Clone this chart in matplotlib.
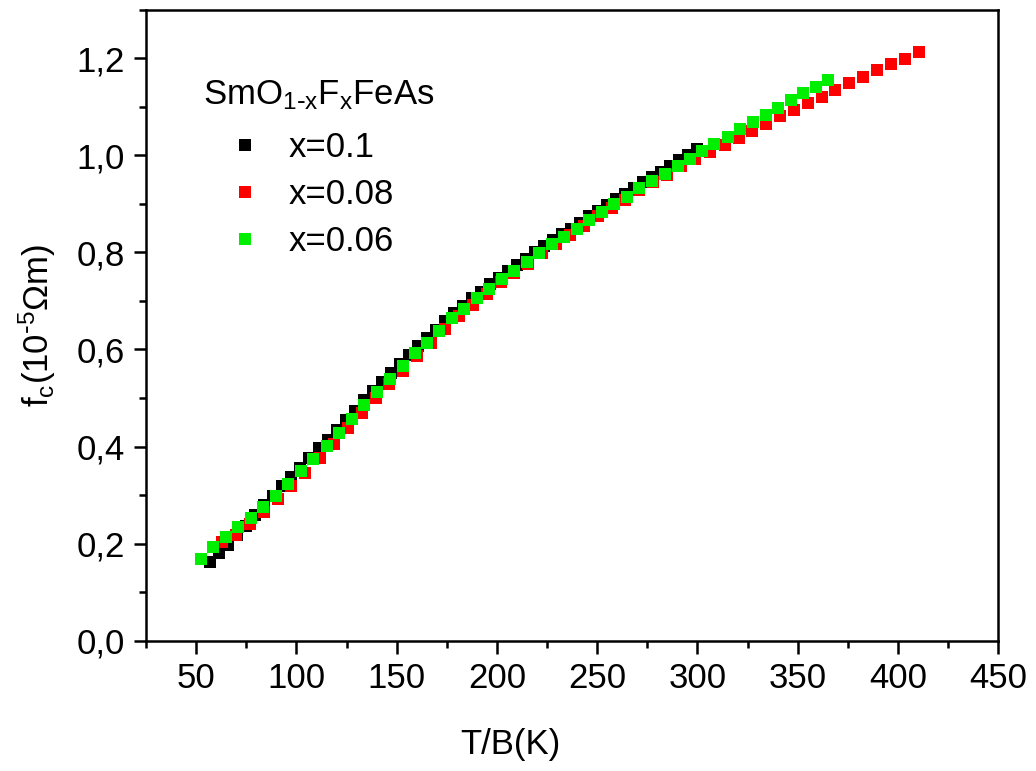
import matplotlib
matplotlib.use("Agg")
import matplotlib.pyplot as plt
from matplotlib.ticker import MultipleLocator, FuncFormatter

plt.rcParams['font.family'] = ['Liberation Sans', 'DejaVu Sans']
plt.rcParams['mathtext.default'] = 'regular'

# SmO(1-x)F(x)FeAs, x = 0.1
t_b_01 = [57, 61.5, 66, 70.5, 75, 79.5, 84, 88.5, 93, 97.5, 102, 106.5, 111, 115.5,
          120, 124.5, 129, 133.5, 138, 142.5, 147, 151.5, 156, 160.5, 165, 169.5,
          174, 178.5, 183, 187.5, 192, 196.5, 201, 205.5, 210, 214.5, 219, 223.5,
          228, 232.5, 237, 241.5, 246, 250.5, 255, 259.5, 264, 268.5, 273, 277.5,
          282, 286.5, 291, 295.5, 300]
fc_01 = [0.162, 0.180, 0.198, 0.217, 0.237, 0.258, 0.279, 0.299, 0.318, 0.337,
         0.356, 0.376, 0.396, 0.414, 0.435, 0.454, 0.474, 0.495, 0.514, 0.533,
         0.551, 0.569, 0.588, 0.607, 0.623, 0.641, 0.659, 0.675, 0.690, 0.705,
         0.719, 0.734, 0.748, 0.761, 0.773, 0.787, 0.800, 0.813, 0.826, 0.837,
         0.848, 0.861, 0.874, 0.886, 0.897, 0.909, 0.920, 0.932, 0.945, 0.955,
         0.966, 0.978, 0.990, 1.001, 1.012]

# x = 0.08
t_b_008 = [63, 70, 77, 84, 91, 97.5, 104.5, 111.5, 118.5, 125.5, 132.5, 139.5, 146,
           153, 160, 167, 174, 181, 188, 195, 202, 208.5, 215.5, 222.5, 229.5,
           236.5, 243.5, 250.5, 257.5, 264, 271, 278, 285, 292, 299, 306.5, 313.5,
           320.5, 327, 334, 341, 348, 355, 362, 368.5, 375.5, 382.5, 389.5, 396.5,
           403.5, 410.5]
fc_008 = [0.203, 0.218, 0.240, 0.266, 0.291, 0.318, 0.346, 0.376, 0.406, 0.439,
          0.470, 0.500, 0.528, 0.556, 0.587, 0.614, 0.642, 0.668, 0.692, 0.715,
          0.738, 0.757, 0.777, 0.798, 0.817, 0.835, 0.855, 0.874, 0.892, 0.908,
          0.928, 0.944, 0.960, 0.977, 0.993, 1.007, 1.021, 1.036, 1.050, 1.065,
          1.080, 1.094, 1.108, 1.121, 1.134, 1.148, 1.161, 1.175, 1.187, 1.199,
          1.212]

# x = 0.06
t_b_006 = [52.5, 58.5, 65, 71, 77.5, 83.5, 90, 96, 102.5, 108.5, 115, 121, 127.5,
           133.5, 140, 146.5, 153, 159, 165, 171, 177.5, 183.5, 190, 196, 202.5,
           208.5, 215, 221, 227.5, 233.5, 240, 246, 252.5, 258.5, 265, 271, 277.5,
           284, 290.5, 296.5, 302.5, 308.5, 315, 321, 327.5, 334, 340, 346.5,
           352.5, 359, 365]
fc_006 = [0.168, 0.193, 0.214, 0.234, 0.253, 0.275, 0.298, 0.323, 0.349, 0.374,
          0.401, 0.428, 0.456, 0.485, 0.512, 0.539, 0.565, 0.592, 0.614, 0.639,
          0.664, 0.684, 0.705, 0.725, 0.746, 0.762, 0.781, 0.799, 0.818, 0.832,
          0.849, 0.867, 0.884, 0.900, 0.914, 0.933, 0.947, 0.962, 0.978, 0.993,
          1.009, 1.023, 1.038, 1.054, 1.069, 1.083, 1.097, 1.114, 1.128, 1.141,
          1.155]

labels = ['x=0.1', 'x=0.08', 'x=0.06']
colors = ['#000000', '#ff0000', '#00ee00']

fig = plt.figure(figsize=(10.36, 7.71), dpi=100)
ax = fig.add_axes([0.141, 0.169, 0.8225, 0.8185])

series = [(t_b_01, fc_01), (t_b_008, fc_008), (t_b_006, fc_006)]
for (xs, ys), lab, c in zip(series, labels, colors):
    ax.plot(xs, ys, ls='none', marker='s', ms=8.5, mfc=c, mec=c, mew=0, label=lab)

ax.set_xlim(25, 450)
ax.set_ylim(0, 1.3)
ax.xaxis.set_major_locator(MultipleLocator(50))
ax.xaxis.set_minor_locator(MultipleLocator(25))
ax.yaxis.set_major_locator(MultipleLocator(0.2))
ax.yaxis.set_minor_locator(MultipleLocator(0.1))
ax.yaxis.set_major_formatter(FuncFormatter(lambda v, p: f"{v:.1f}".replace('.', ',')))

ax.tick_params(which='both', direction='out', width=1.8, labelsize=25, pad=6)
ax.tick_params(which='major', length=9)
ax.tick_params(which='minor', length=5)
for s in ax.spines.values():
    s.set_linewidth(1.8)

ax.set_xlabel('T/B(K)', fontsize=25)
ax.xaxis.set_label_coords(0.427, -0.138)
ax.set_ylabel(r'f$_c$(10$^{\text{-}5}$Ωm)', fontsize=25)
ax.yaxis.set_label_coords(-0.103, 0.5)

# compound name above the legend entries
ax.text(0.067, 0.85, r'SmO$_{1\text{-}x}$F$_x$FeAs', transform=ax.transAxes,
        fontsize=25, ha='left', va='baseline')

ax.legend(loc='upper left', bbox_to_anchor=(0.0958, 0.807), frameon=False,
          fontsize=25, handlelength=1.0, handletextpad=0.74, labelspacing=0.4,
          borderpad=0, borderaxespad=0)

fig.savefig('out.png', dpi=100)
